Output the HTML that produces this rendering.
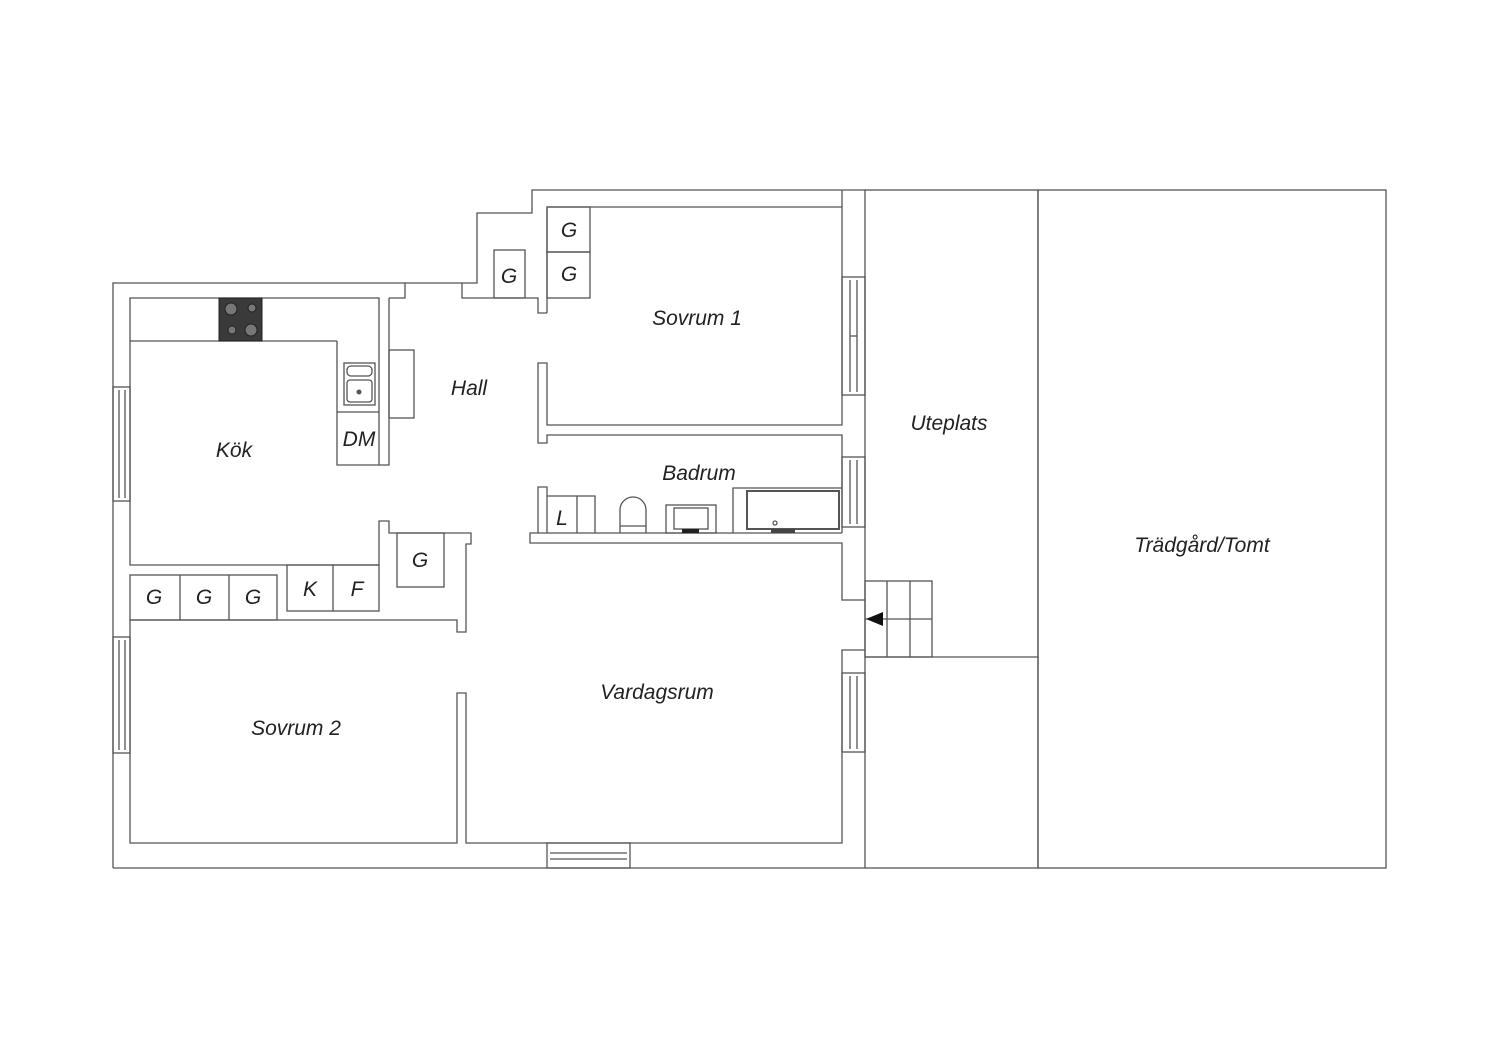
<!DOCTYPE html>
<html><head><meta charset="utf-8"><style>
html,body{margin:0;padding:0;background:#fff;}
svg{display:block}
text{font-family:"Liberation Sans",sans-serif;font-style:italic;fill:#222;}
</style></head><body>
<svg width="1500" height="1060" viewBox="0 0 1500 1060" xmlns="http://www.w3.org/2000/svg">
<g fill="none" stroke="#555" stroke-width="1.3">
<!-- outer contour -->
<polyline points="113,868 113,283 405,283 405,298 389,298"/>
<polyline points="405,283 462,283 462,298 538,298 538,313 547,313"/>
<polyline points="462,283 477,283 477,213 532,213 532,190 865,190"/>
<line x1="113" y1="868" x2="865" y2="868"/>
<!-- Uteplats / garden -->
<rect x="865" y="190" width="173" height="678"/>
<rect x="1038" y="190" width="348" height="678"/>
<line x1="865" y1="657" x2="1038" y2="657"/>
<!-- stairs -->
<rect x="865" y="581" width="67" height="76"/>
<line x1="887" y1="581" x2="887" y2="657"/>
<line x1="910" y1="581" x2="910" y2="657"/>
<line x1="865" y1="619" x2="932" y2="619"/>
<!-- Sovrum 1 -->
<polyline points="547,313 547,207 842,207 842,425 547,425 547,363 538,363 538,443 547,443 547,435 842,435 842,533"/>
<line x1="842" y1="190" x2="842" y2="207"/>
<!-- bath wall -->
<polyline points="547,533 547,487 538,487 538,533 530,533 530,543 842,543 842,600 865,600"/>
<line x1="538" y1="533" x2="842" y2="533"/>
<polyline points="865,650 842,650 842,843 466,843 466,693 457,693 457,843 130,843 130,620 457,620 457,632 466,632 466,544 471,544 471,533 389,533 389,521 379,521 379,565 130,565 130,298 379,298 379,465 389,465 389,298"/>
<!-- windows -->
<rect x="842" y="277" width="23" height="118"/>
<line x1="850" y1="280" x2="850" y2="392"/><line x1="857" y1="280" x2="857" y2="392"/><line x1="850" y1="336" x2="857" y2="336"/>
<rect x="842" y="457" width="23" height="70"/>
<line x1="850" y1="460" x2="850" y2="524"/><line x1="857" y1="460" x2="857" y2="524"/>
<rect x="842" y="673" width="23" height="79"/>
<line x1="850" y1="676" x2="850" y2="749"/><line x1="857" y1="676" x2="857" y2="749"/>
<rect x="113" y="387" width="17" height="114"/>
<line x1="119" y1="390" x2="119" y2="498"/><line x1="125" y1="390" x2="125" y2="498"/>
<rect x="113" y="637" width="17" height="116"/>
<line x1="119" y1="640" x2="119" y2="750"/><line x1="125" y1="640" x2="125" y2="750"/>
<rect x="547" y="843" width="83" height="25"/>
<line x1="550" y1="853" x2="627" y2="853"/><line x1="550" y1="859" x2="627" y2="859"/>
<!-- kitchen counters -->
<line x1="130" y1="341" x2="337" y2="341"/>
<polyline points="337,341 337,465 379,465"/>
<line x1="337" y1="412" x2="379" y2="412"/>
<rect x="344" y="363" width="31" height="42"/>
<rect x="347" y="366" width="25" height="10" rx="4"/>
<rect x="347" y="380" width="25" height="22" rx="3"/>
<rect x="389" y="350" width="25" height="68"/>
<!-- GGG / K F / G -->
<rect x="130" y="575" width="147" height="45"/>
<line x1="180" y1="575" x2="180" y2="620"/><line x1="229" y1="575" x2="229" y2="620"/>
<rect x="287" y="565" width="92" height="46"/>
<line x1="333" y1="565" x2="333" y2="611"/>
<rect x="397" y="533" width="47" height="54"/>
<!-- hall top G boxes -->
<rect x="494" y="250" width="31" height="48"/>
<rect x="547" y="207" width="43" height="45"/>
<rect x="547" y="252" width="43" height="46"/>
<!-- bathroom fixtures -->
<polyline points="547,496 595,496 595,533"/>
<line x1="577" y1="496" x2="577" y2="533"/>
<path d="M620,533 V510 A13,13 0 0 1 646,510 V533"/>
<line x1="620" y1="526" x2="646" y2="526"/>
<rect x="666" y="505" width="50" height="28"/>
<rect x="674" y="508" width="34" height="21"/>
<polyline points="733,533 733,488 842,488"/>
<rect x="747" y="491" width="92" height="38" stroke-width="2"/>
<circle cx="775" cy="523" r="2"/>
</g>
<!-- stove -->
<rect x="219" y="298" width="43" height="43" fill="#3a3a3a" stroke="#222"/>
<circle cx="231" cy="309" r="6" fill="#777" stroke="#222"/>
<circle cx="252" cy="308" r="4" fill="#777" stroke="#222"/>
<circle cx="232" cy="330" r="4" fill="#777" stroke="#222"/>
<circle cx="251" cy="330" r="6" fill="#777" stroke="#222"/>
<circle cx="359" cy="392" r="2.5" fill="#555"/>
<rect x="682" y="529" width="17" height="4" fill="#222"/>
<rect x="771" y="529" width="24" height="4" fill="#444"/>
<!-- arrow -->
<polygon points="866,619 883,612 883,626" fill="#111"/>
<!-- labels -->
<g font-size="21">
<text x="697" y="325" text-anchor="middle">Sovrum 1</text>
<text x="469" y="395" text-anchor="middle">Hall</text>
<text x="949" y="430" text-anchor="middle">Uteplats</text>
<text x="234" y="457" text-anchor="middle">Kök</text>
<text x="699" y="480" text-anchor="middle">Badrum</text>
<text x="1202" y="552" text-anchor="middle">Trädgård/Tomt</text>
<text x="657" y="699" text-anchor="middle">Vardagsrum</text>
<text x="296" y="735" text-anchor="middle">Sovrum 2</text>
<text x="359" y="446" text-anchor="middle">DM</text>
<text x="509" y="283" text-anchor="middle">G</text>
<text x="569" y="237" text-anchor="middle">G</text>
<text x="569" y="281" text-anchor="middle">G</text>
<text x="154" y="604" text-anchor="middle">G</text>
<text x="204" y="604" text-anchor="middle">G</text>
<text x="253" y="604" text-anchor="middle">G</text>
<text x="310" y="596" text-anchor="middle">K</text>
<text x="357" y="596" text-anchor="middle">F</text>
<text x="420" y="567" text-anchor="middle">G</text>
<text x="562" y="525" text-anchor="middle">L</text>
</g>
</svg>
</body></html>
